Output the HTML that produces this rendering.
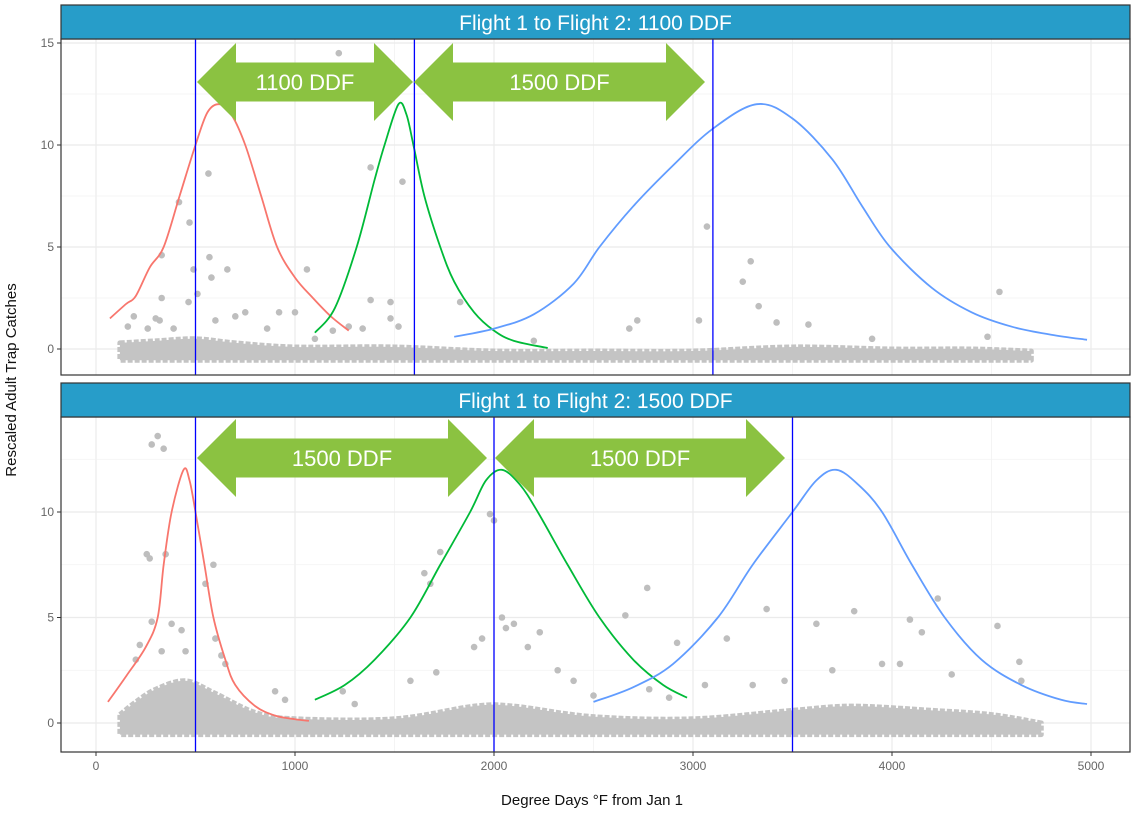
<!DOCTYPE html>
<html><head><meta charset="utf-8"><style>
body{margin:0;background:#fff;}
svg{display:block;font-family:"Liberation Sans",sans-serif;}
</style></head><body>
<svg id="chart" width="1143" height="813" viewBox="0 0 1143 813">
<g id="root"></g>
</svg>
<script>
const xTicks=[0,1000,2000,3000,4000,5000];
const topYTicks=[0,5,10,15];
const botYTicks=[0,5,10];
const topVLines=[500,1600,3100];
const botVLines=[500,2000,3500];
const topRedX=[70,150,200,270,340,420,500,560,620,680,750,830,910,1000,1090,1180,1270];
const topRedY=[1.5,2.2,2.6,4,5,7.5,10,11.6,12,11.5,10,7.5,5,3.5,2.5,1.6,0.9];
const topGreenX=[1100,1200,1310,1400,1450,1520,1560,1595,1650,1730,1800,1900,2000,2100,2270];
const topGreenY=[0.8,2,5,8.3,10,12,11.5,10,7.5,5,3.3,1.8,0.9,0.4,0.05];
const topBlueX=[1800,2000,2200,2400,2530,2700,2900,3100,3320,3500,3700,3850,3990,4200,4400,4600,4800,4980];
const topBlueY=[0.6,1,1.7,3.2,5,7,9,10.8,12,11.3,9.3,7,5,3,1.8,1.1,0.7,0.45];
const botRedX=[60,150,250,310,340,380,440,470,500,545,590,650,700,800,900,1000,1070];
const botRedY=[1,2.2,3.6,5,7.5,10,12,11.5,10,7.5,5,3,1.8,0.8,0.35,0.18,0.1];
const botGreenX=[1100,1250,1400,1580,1730,1880,1960,2040,2130,2220,2370,2530,2700,2850,2970];
const botGreenY=[1.1,1.8,3,5,7.5,10,11.5,12,11.3,10,7.5,5,3,1.8,1.2];
const botBlueX=[2500,2700,2900,3125,3300,3500,3620,3720,3830,3950,4100,4265,4450,4650,4850,4980];
const botBlueY=[1,1.7,2.8,5,7.5,10,11.5,12,11.3,10,7.5,5,3,1.8,1.1,0.9];
const topBandX=[120,300,500,700,1000,1500,2000,2500,3000,3500,4000,4400,4700];
const topBandTop=[0.3,0.4,0.5,0.3,0.1,0.1,-0.1,-0.1,-0.1,0.1,0,0,-0.1];
const botBandX=[120,200,300,450,600,800,1000,1500,1900,2100,2500,3000,3500,3800,4200,4500,4750];
const botBandTop=[0.4,1.0,1.6,2.0,1.4,0.5,0.2,0.2,0.8,0.8,0.3,0.2,0.6,0.8,0.6,0.4,0];
const topPtsX=[1220,565,1380,1540,3070,417,470,330,570,490,580,660,1060,3290,3250,1380,330,465,510,1480,1830,3330,4540,3420,3580,2720,3030,2680,750,920,1000,190,300,320,600,700,1100,1480,1520,260,160,390,860,1190,1270,1340,4480,3900,2200];
const topPtsY=[14.5,8.6,8.9,8.2,6.0,7.2,6.2,4.6,4.5,3.9,3.5,3.9,3.9,4.3,3.3,2.4,2.5,2.3,2.7,2.3,2.3,2.1,2.8,1.3,1.2,1.4,1.4,1.0,1.8,1.8,1.8,1.6,1.5,1.4,1.4,1.6,0.5,1.5,1.1,1.0,1.1,1.0,1.0,0.9,1.1,1.0,0.6,0.5,0.4];
const botPtsX=[310,280,340,255,350,270,1730,1980,2000,550,590,1650,1680,2770,3370,3810,2660,4230,4530,2040,2100,2060,3620,4090,4150,280,380,430,220,330,450,200,3170,2920,4640,1900,1940,2170,2230,2320,1710,1580,2400,3700,3950,4040,4300,4650,3460,3300,2780,3060,600,630,650,900,950,1240,1300,2500,2880];
const botPtsY=[13.6,13.2,13.0,8.0,8.0,7.8,8.1,9.9,9.6,6.6,7.5,7.1,6.6,6.4,5.4,5.3,5.1,5.9,4.6,5.0,4.7,4.5,4.7,4.9,4.3,4.8,4.7,4.4,3.7,3.4,3.4,3.0,4.0,3.8,2.9,3.6,4.0,3.6,4.3,2.5,2.4,2.0,2.0,2.5,2.8,2.8,2.3,2.0,2.0,1.8,1.6,1.8,4.0,3.2,2.8,1.5,1.1,1.5,0.9,1.3,1.2];

const NS='http://www.w3.org/2000/svg';
const root=document.getElementById('root');
function mk(tag,attrs,parent){const e=document.createElementNS(NS,tag);for(const k in attrs)e.setAttribute(k,attrs[k]);(parent||root).appendChild(e);return e;}
const X=v=>96+v*0.199;
const L=61,R=1130;
function smooth(p){
  let d='M'+p[0][0]+','+p[0][1];
  for(let i=0;i<p.length-1;i++){
    const p0=p[i-1]||p[i],p1=p[i],p2=p[i+1],p3=p[i+2]||p2;
    const c1=[p1[0]+(p2[0]-p0[0])/6,p1[1]+(p2[1]-p0[1])/6];
    const c2=[p2[0]-(p3[0]-p1[0])/6,p2[1]-(p3[1]-p1[1])/6];
    d+=' C'+c1.join(',')+' '+c2.join(',')+' '+p2.join(',');
  }
  return d;
}

function panel(cfg){
  const g=mk('g',{});
  
  
  const Y=v=>cfg.y0-v*cfg.k;
  mk('rect',{x:L,y:cfg.top,width:R-L,height:cfg.bot-cfg.top,fill:'#fff'},g);
  for(let v=500;v<=5000;v+=1000){mk('line',{x1:X(v),x2:X(v),y1:cfg.top,y2:cfg.bot,stroke:'#f2f2f2','stroke-width':0.8},g);}
  for(const v of xTicks){mk('line',{x1:X(v),x2:X(v),y1:cfg.top,y2:cfg.bot,stroke:'#ebebeb','stroke-width':1.2},g);}
  for(let v=2.5;v<=15;v+=5){if(Y(v)>cfg.top)mk('line',{x1:L,x2:R,y1:Y(v),y2:Y(v),stroke:'#f2f2f2','stroke-width':0.8},g);}
  for(const v of cfg.yt){mk('line',{x1:L,x2:R,y1:Y(v),y2:Y(v),stroke:'#ebebeb','stroke-width':1.2},g);
    const t=mk('text',{x:54,y:Y(v)+4,'text-anchor':'end','font-size':12,fill:'#666'},g);t.textContent=v;
    
    
    mk('line',{x1:57,x2:61,y1:Y(v),y2:Y(v),stroke:'#333'},g);}
  const pts=cfg.bx.map((x,i)=>[X(x),Y(cfg.bt[i])]);
  let d=smooth(pts);
  d+=' L'+X(cfg.bx[cfg.bx.length-1])+','+Y(-0.55)+' L'+X(cfg.bx[0])+','+Y(-0.55)+' Z';
  const band=mk('path',{d:d,fill:'#c4c4c4',stroke:'#c4c4c4','stroke-width':5,'stroke-linejoin':'round','stroke-dasharray':'5 2'},g);
  
  
  cfg.px.forEach((x,i)=>{const c=mk('circle',{cx:X(x),cy:Y(cfg.py[i]),r:3.3,fill:'#bebebe'},g);
    
    });
  const curves=[[cfg.c[0],cfg.c[1],'#f8766d','red-curve'],[cfg.c[2],cfg.c[3],'#00ba38','green-curve'],[cfg.c[4],cfg.c[5],'#619cff','blue-curve']];
  for(const [xs,ys,col,nm] of curves){
    const p=mk('path',{d:smooth(xs.map((x,i)=>[X(x),Y(ys[i])])),fill:'none',stroke:col,'stroke-width':1.8,'stroke-linejoin':'round'},g);
    
    
  }
  for(const v of cfg.vl){const l=mk('line',{x1:X(v),x2:X(v),y1:cfg.top,y2:cfg.bot,stroke:'#0000ff','stroke-width':1.3},g);
    
    }
  for(const a of cfg.arrows){
    const [x1,x2,txt]=a, cy=cfg.acy, hh=39, sh=19.5, hl=39;
    const pp=[[x1,cy],[x1+hl,cy-hh],[x1+hl,cy-sh],[x2-hl,cy-sh],[x2-hl,cy-hh],[x2,cy],[x2-hl,cy+hh],[x2-hl,cy+sh],[x1+hl,cy+sh],[x1+hl,cy+hh]];
    const ar=mk('polygon',{points:pp.map(p=>p.join(',')).join(' '),fill:'#8bc241'},g);
    
    
    const t=mk('text',{x:(x1+x2)/2,y:cy+8,'text-anchor':'middle','font-size':22,fill:'#fff'},g);t.textContent=txt;
    
    
  }
  mk('rect',{x:L,y:cfg.top,width:R-L,height:cfg.bot-cfg.top,fill:'none',stroke:'#333','stroke-width':1.2},g);
  const s=mk('rect',{x:L,y:cfg.stop,width:R-L,height:cfg.top-cfg.stop,fill:'#279dc9',stroke:'#333','stroke-width':1.2},g);
  
  
  const st=mk('text',{x:(L+R)/2,y:cfg.stop+25,'text-anchor':'middle','font-size':21,fill:'#fff'},g);st.textContent=cfg.title;
  
  
}
panel({name:'panel-1100',stop:5,top:39,bot:375,y0:349,k:20.4,yt:topYTicks,vl:topVLines,
  c:[topRedX,topRedY,topGreenX,topGreenY,topBlueX,topBlueY],bx:topBandX,bt:topBandTop,px:topPtsX,py:topPtsY,
  acy:82,arrows:[[197,413,'1100 DDF'],[414,705,'1500 DDF']],title:'Flight 1 to Flight 2: 1100 DDF'});
panel({name:'panel-1500',stop:383,top:417,bot:752,y0:723,k:21.1,yt:botYTicks,vl:botVLines,
  c:[botRedX,botRedY,botGreenX,botGreenY,botBlueX,botBlueY],bx:botBandX,bt:botBandTop,px:botPtsX,py:botPtsY,
  acy:458,arrows:[[197,487,'1500 DDF'],[495,785,'1500 DDF']],title:'Flight 1 to Flight 2: 1500 DDF'});
for(const v of xTicks){mk('line',{x1:X(v),x2:X(v),y1:752,y2:756,stroke:'#333'});
  const t=mk('text',{x:X(v),y:770,'text-anchor':'middle','font-size':12,fill:'#666'});t.textContent=v;
  
  }
const xt=mk('text',{x:592,y:805,'text-anchor':'middle','font-size':15,fill:'#111'});xt.textContent='Degree Days °F from Jan 1';


const yt=mk('text',{x:0,y:0,'text-anchor':'middle','font-size':15,fill:'#111',transform:'translate(16,380) rotate(-90)'});yt.textContent='Rescaled Adult Trap Catches';


</script>
</body></html>
